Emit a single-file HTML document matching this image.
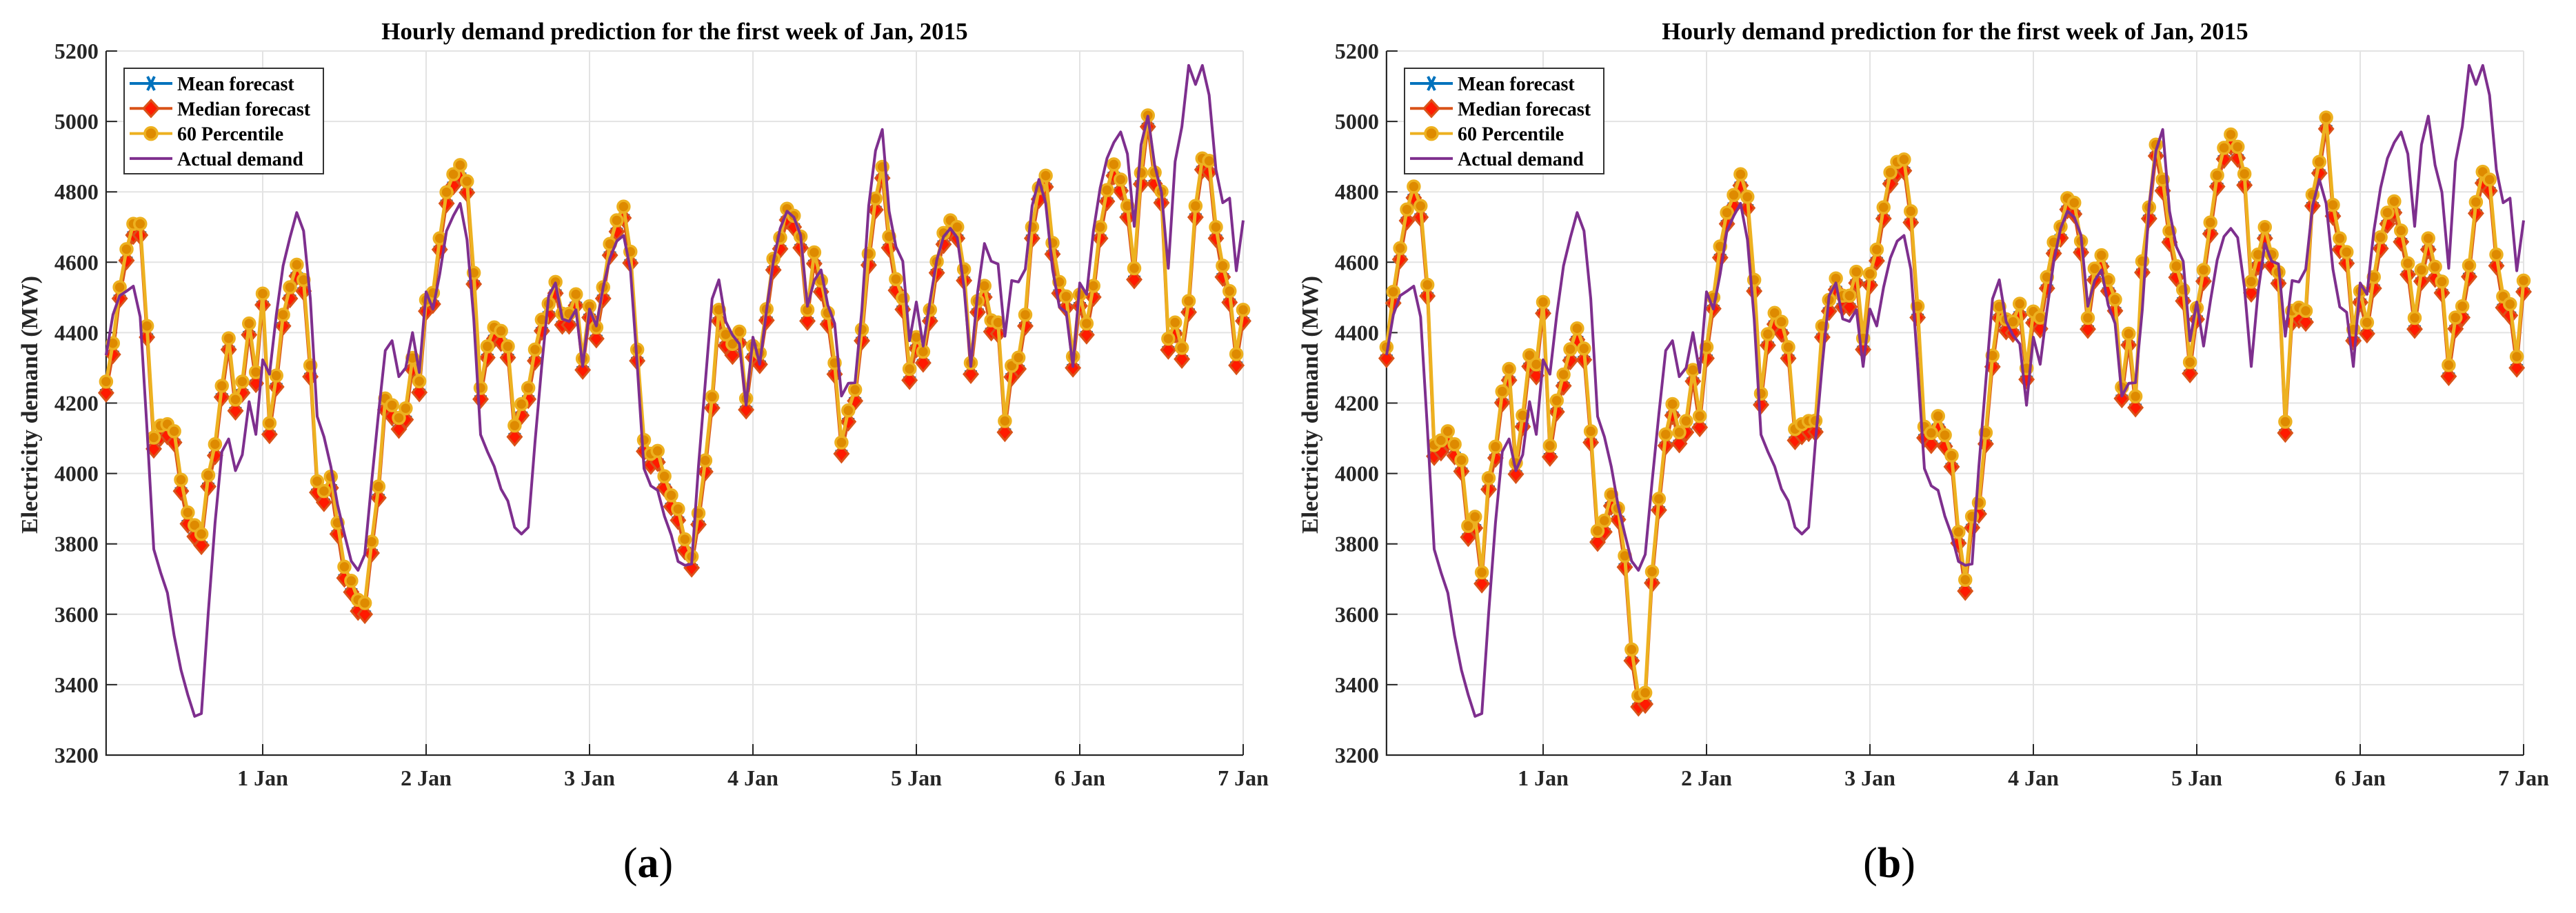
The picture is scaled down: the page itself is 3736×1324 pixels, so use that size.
<!DOCTYPE html>
<html><head><meta charset="utf-8"><title>Hourly demand prediction</title>
<style>
html,body{margin:0;padding:0;background:#fff;}
svg{display:block;font-family:"Liberation Serif","DejaVu Serif",serif;}
</style></head>
<body>
<svg id="fig" xmlns="http://www.w3.org/2000/svg" width="3736" height="1324" viewBox="0 0 3736 1324"></svg>
<script>
const yTicks=[3200,3400,3600,3800,4000,4200,4400,4600,4800,5000,5200];
const xTickDays=[1,2,3,4,5,6,7];
const xTickLabels=["1 Jan","2 Jan","3 Jan","4 Jan","5 Jan","6 Jan","7 Jan"];
const actual=[4336,4451,4505,4518,4532,4445,4130,3785,3719,3661,3539,3442,3371,3310,3318,3603,3860,4062,4098,4008,4053,4204,4111,4323,4282,4451,4590,4670,4741,4689,4496,4162,4104,4020,3911,3828,3751,3725,3770,3976,4169,4349,
4377,4275,4300,4400,4287,4516,4467,4567,4689,4732,4767,4664,4439,4110,4062,4020,3956,3922,3847,3828,3847,4091,4310,4505,4541,4439,4432,4465,4304,4467,4419,4529,4612,4660,4676,4580,4310,4014,3965,3952,3879,3825,
3750,3739,3743,4020,4258,4496,4550,4432,4393,4368,4194,4387,4310,4465,4602,4696,4745,4728,4677,4475,4548,4578,4478,4426,4220,4256,4258,4465,4760,4917,4977,4745,4644,4603,4377,4487,4362,4490,4606,4673,4696,
4670,4529,4304,4516,4653,4603,4595,4390,4548,4544,4580,4760,4835,4767,4580,4473,4458,4304,4541,4509,4689,4811,4895,4940,4970,4908,4702,4934,5015,4876,4799,4583,4886,4985,5159,5105,5159,5075,4863,4769,4782,4576,4719];
const p60A=[4261,4370,4529,4637,4709,4709,4419,4102,4136,4140,4120,3982,3889,3853,3828,3995,4083,4249,4384,4210,4261,4426,4288,4511,4143,4278,4451,4529,4593,4550,4307,3978,3950,3991,3860,3735,3695,3641,3632,3806,3963,4213,
4194,4158,4185,4328,4262,4493,4513,4668,4799,4850,4876,4830,4570,4243,4361,4415,4405,4361,4136,4197,4243,4352,4437,4482,4544,4454,4454,4509,4326,4475,4415,4529,4652,4719,4758,4630,4352,4095,4056,4064,3992,3938,
3899,3813,3764,3887,4037,4218,4465,4395,4368,4403,4213,4362,4342,4467,4610,4670,4752,4732,4673,4465,4628,4548,4456,4314,4088,4179,4238,4409,4624,4781,4871,4673,4552,4498,4297,4387,4346,4465,4602,4683,4719,
4700,4580,4314,4490,4533,4435,4429,4149,4306,4329,4451,4700,4811,4846,4655,4544,4503,4332,4508,4426,4533,4700,4805,4878,4835,4760,4583,4854,5017,4855,4801,4383,4429,4357,4490,4760,4895,4888,4700,4590,4518,4339,4465];
const meanA=[4237,4346,4505,4613,4685,4685,4395,4078,4112,4116,4096,3958,3865,3829,3804,3971,4059,4225,4360,4186,4237,4402,4264,4487,4119,4254,4427,4505,4569,4526,4283,3954,3926,3967,3836,3711,3671,3617,3608,3782,3939,4189,
4170,4134,4161,4304,4238,4469,4489,4644,4775,4826,4852,4806,4546,4219,4337,4391,4381,4337,4112,4173,4219,4328,4413,4458,4520,4430,4430,4485,4302,4451,4391,4505,4628,4695,4734,4606,4328,4071,4032,4040,3968,3914,
3875,3789,3740,3863,4013,4194,4441,4371,4344,4379,4189,4338,4318,4443,4586,4646,4728,4708,4649,4441,4604,4524,4432,4290,4064,4155,4214,4385,4600,4757,4847,4649,4528,4474,4273,4363,4322,4441,4578,4659,4695,
4676,4556,4290,4466,4509,4411,4405,4125,4282,4305,4427,4676,4787,4822,4631,4520,4479,4308,4484,4402,4509,4676,4781,4854,4811,4736,4559,4830,4993,4831,4777,4359,4405,4333,4466,4736,4871,4864,4676,4566,4494,4315,4441];
const medianA=[4229,4338,4497,4605,4677,4677,4387,4070,4104,4108,4088,3950,3857,3821,3796,3963,4051,4217,4352,4178,4229,4394,4256,4479,4111,4246,4419,4497,4561,4518,4275,3946,3918,3959,3828,3703,3663,3609,3600,3774,3931,4181,
4162,4126,4153,4296,4230,4461,4481,4636,4767,4818,4844,4798,4538,4211,4329,4383,4373,4329,4104,4165,4211,4320,4405,4450,4512,4422,4422,4477,4294,4443,4383,4497,4620,4687,4726,4598,4320,4063,4024,4032,3960,3906,
3867,3781,3732,3855,4005,4186,4433,4363,4336,4371,4181,4330,4310,4435,4578,4638,4720,4700,4641,4433,4596,4516,4424,4282,4056,4147,4206,4377,4592,4749,4839,4641,4520,4466,4265,4355,4314,4433,4570,4651,4687,
4668,4548,4282,4458,4501,4403,4397,4117,4274,4297,4419,4668,4779,4814,4623,4512,4471,4300,4476,4394,4501,4668,4773,4846,4803,4728,4551,4822,4985,4823,4769,4351,4397,4325,4458,4728,4863,4856,4668,4558,4486,4307,4433];
const p60B=[4359,4516,4640,4750,4815,4760,4536,4081,4094,4120,4083,4038,3851,3877,3719,3987,4076,4233,4297,4030,4165,4336,4310,4487,4079,4207,4281,4353,4412,4355,4120,3837,3866,3940,3901,3766,3500,3369,3377,3721,3928,4111,
4197,4117,4149,4294,4163,4359,4500,4645,4741,4791,4850,4786,4550,4227,4396,4456,4431,4359,4126,4140,4149,4150,4419,4493,4554,4505,4505,4573,4384,4567,4636,4756,4855,4885,4892,4745,4475,4133,4115,4163,4109,4051,
3834,3698,3878,3917,4116,4335,4474,4438,4431,4482,4299,4460,4443,4558,4657,4701,4782,4769,4660,4442,4582,4620,4550,4494,4245,4397,4219,4603,4756,4934,4835,4689,4589,4522,4316,4470,4578,4713,4847,4925,4963,
4928,4851,4545,4622,4700,4622,4572,4147,4462,4471,4462,4792,4885,5011,4763,4668,4629,4409,4518,4429,4558,4671,4741,4773,4690,4597,4442,4578,4668,4587,4545,4308,4443,4475,4591,4771,4857,4835,4622,4503,4481,4332,4548];
const meanB=[4335,4492,4616,4726,4791,4736,4512,4057,4070,4096,4059,4014,3827,3853,3695,3963,4052,4209,4273,4006,4141,4312,4286,4463,4055,4183,4257,4329,4388,4331,4096,3813,3842,3916,3877,3742,3476,3345,3353,3697,3904,4087,
4173,4093,4125,4270,4139,4335,4476,4621,4717,4767,4826,4762,4526,4203,4372,4432,4407,4335,4102,4116,4125,4126,4395,4469,4530,4481,4481,4549,4360,4543,4612,4732,4831,4861,4868,4721,4451,4109,4091,4139,4085,4027,
3810,3674,3854,3893,4092,4311,4450,4414,4407,4458,4275,4436,4419,4534,4633,4677,4758,4745,4636,4418,4558,4596,4526,4470,4221,4373,4195,4579,4732,4910,4811,4665,4565,4498,4292,4446,4554,4689,4823,4901,4939,
4904,4827,4521,4598,4676,4598,4548,4123,4438,4447,4438,4768,4861,4987,4739,4644,4605,4385,4494,4405,4534,4647,4717,4749,4666,4573,4418,4554,4644,4563,4521,4284,4419,4451,4567,4747,4833,4811,4598,4479,4457,4308,4524];
const medianB=[4327,4484,4608,4718,4783,4728,4504,4049,4062,4088,4051,4006,3819,3845,3687,3955,4044,4201,4265,3998,4133,4304,4278,4455,4047,4175,4249,4321,4380,4323,4088,3805,3834,3908,3869,3734,3468,3337,3345,3689,3896,4079,
4165,4085,4117,4262,4131,4327,4468,4613,4709,4759,4818,4754,4518,4195,4364,4424,4399,4327,4094,4108,4117,4118,4387,4461,4522,4473,4473,4541,4352,4535,4604,4724,4823,4853,4860,4713,4443,4101,4083,4131,4077,4019,
3802,3666,3846,3885,4084,4303,4442,4406,4399,4450,4267,4428,4411,4526,4625,4669,4750,4737,4628,4410,4550,4588,4518,4462,4213,4365,4187,4571,4724,4902,4803,4657,4557,4490,4284,4438,4546,4681,4815,4893,4931,
4896,4819,4513,4590,4668,4590,4540,4115,4430,4439,4430,4760,4853,4979,4731,4636,4597,4377,4486,4397,4526,4639,4709,4741,4658,4565,4410,4546,4636,4555,4513,4276,4411,4443,4559,4739,4825,4803,4590,4471,4449,4300,4516];

const NS="http://www.w3.org/2000/svg";
const svg=document.getElementById('fig');
const C={mean:"#0072BD",median:"#D95319",medFill:"#FF1A00",p60:"#EDB120",p60Fill:"#DE8A00",actual:"#7E2F8E",grid:"#e3e3e3",axis:"#262626"};
function mk(tag,attrs,parent){const e=document.createElementNS(NS,tag);for(const k in attrs)e.setAttribute(k,attrs[k]);(parent||svg).appendChild(e);return e;}
const YMIN=3200,YMAX=5200,TOP=74,BOT=1095,HW=9.875;

function drawPanel(dayZero,mean,median,p60,letter,letterX,tag){
  const g=mk('g',{});
  
  
  const left=dayZero+HW, right=dayZero+HW*168;
  const xS=h=>dayZero+HW*h;
  const yS=v=>TOP+(YMAX-v)/(YMAX-YMIN)*(BOT-TOP);
  yTicks.forEach(t=>{const l=mk('line',{x1:left,x2:right,y1:yS(t),y2:yS(t),stroke:C.grid,'stroke-width':2},g);
    
    });
  xTickDays.forEach(d=>{const l=mk('line',{x1:xS(d*24),x2:xS(d*24),y1:TOP,y2:BOT,stroke:C.grid,'stroke-width':2},g);
    
    });
  const ax=mk('path',{d:`M${left} ${TOP}V${BOT}H${right}`,stroke:C.axis,'stroke-width':2.2,fill:'none'},g);
  
  
  yTicks.forEach(t=>{mk('line',{x1:left,x2:left+16,y1:yS(t),y2:yS(t),stroke:C.axis,'stroke-width':2},g);
    const tx=mk('text',{x:left-11,y:yS(t)+11,'text-anchor':'end','font-size':32,'font-weight':'bold',fill:'#262626'},g);
    tx.textContent=t;
    
    });
  xTickDays.forEach((d,i)=>{mk('line',{x1:xS(d*24),x2:xS(d*24),y1:BOT,y2:BOT-16,stroke:C.axis,'stroke-width':2},g);
    const tx=mk('text',{x:xS(d*24),y:1139,'text-anchor':'middle','font-size':32,'font-weight':'bold',fill:'#262626'},g);
    tx.textContent=xTickLabels[i];
    
    });
  const pts=arr=>arr.map((v,i)=>xS(i+1).toFixed(1)+','+yS(v).toFixed(1)).join(' ');
  const lm=mk('polyline',{points:pts(mean),fill:'none',stroke:C.mean,'stroke-width':3},g);
  
  
  mean.forEach((v,i)=>{const s=mk('path',{d:`M${xS(i+1)-9} ${yS(v)}h18M${xS(i+1)-5} ${yS(v)-8}l10 16M${xS(i+1)+5} ${yS(v)-8}l-10 16`,stroke:C.mean,'stroke-width':3},g);
    
    });
  const ld=mk('polyline',{points:pts(median),fill:'none',stroke:C.median,'stroke-width':4},g);
  
  
  median.forEach((v,i)=>{const x=xS(i+1),y=yS(v);const s=mk('path',{d:`M${x} ${y-12}L${x+10} ${y}L${x} ${y+12}L${x-10} ${y}Z`,fill:C.medFill,stroke:C.median,'stroke-width':3},g);
    
    });
  const lp=mk('polyline',{points:pts(p60),fill:'none',stroke:C.p60,'stroke-width':5},g);
  
  
  p60.forEach((v,i)=>{const s=mk('circle',{cx:xS(i+1),cy:yS(v),r:8.5,fill:C.p60Fill,stroke:C.p60,'stroke-width':3.5},g);
    
    });
  const la=mk('polyline',{points:pts(actual),fill:'none',stroke:C.actual,'stroke-width':4,'stroke-linejoin':'round'},g);
  
  
  const tt=mk('text',{x:(left+right)/2,y:57,'text-anchor':'middle','font-size':35,'font-weight':'bold',fill:'#000'},g);
  tt.textContent='Hourly demand prediction for the first week of Jan, 2015';
  
  
  const yl=mk('text',{x:0,y:0,transform:`translate(${dayZero-90},587) rotate(-90)`,'text-anchor':'middle','font-size':34,'font-weight':'bold',fill:'#262626'},g);
  yl.textContent='Electricity demand (MW)';
  
  
  const lg=mk('g',{},g);
  
  
  const lx=dayZero+36;
  mk('rect',{x:lx,y:99,width:289,height:153,fill:'#fff',stroke:'#333','stroke-width':2},lg);
  const names=['Mean forecast','Median forecast','60 Percentile','Actual demand'];
  const cols=[C.mean,C.median,C.p60,C.actual];
  names.forEach((n,i)=>{const y=121+i*36.3;const e=mk('g',{},lg);
    
    
    mk('line',{x1:lx+8,x2:lx+70,y1:y,y2:y,stroke:cols[i],'stroke-width':4},e);
    const mx=lx+39;
    if(i===0)mk('path',{d:`M${mx-10} ${y}h20M${mx-5} ${y-10}l10 20M${mx+5} ${y-10}l-10 20`,stroke:C.mean,'stroke-width':4},e);
    if(i===1)mk('path',{d:`M${mx} ${y-12}L${mx+11} ${y}L${mx} ${y+12}L${mx-11} ${y}Z`,fill:C.medFill,stroke:C.median,'stroke-width':3},e);
    if(i===2)mk('circle',{cx:mx,cy:y,r:9,fill:C.p60Fill,stroke:C.p60,'stroke-width':3.5},e);
    const t=mk('text',{x:lx+77,y:y+10,'font-size':28,'font-weight':'bold',fill:'#000'},e);t.textContent=n;});
  const sl=mk('text',{x:letterX,y:1272,'text-anchor':'middle','font-size':62,fill:'#000'},g);
  sl.innerHTML='(<tspan font-weight="bold">'+letter+'</tspan>)';
  
  
}
drawPanel(144,meanA,medianA,p60A,'a',940,'a');
drawPanel(2001,meanB,medianB,p60B,'b',2740,'b');
</script>
</body></html>
